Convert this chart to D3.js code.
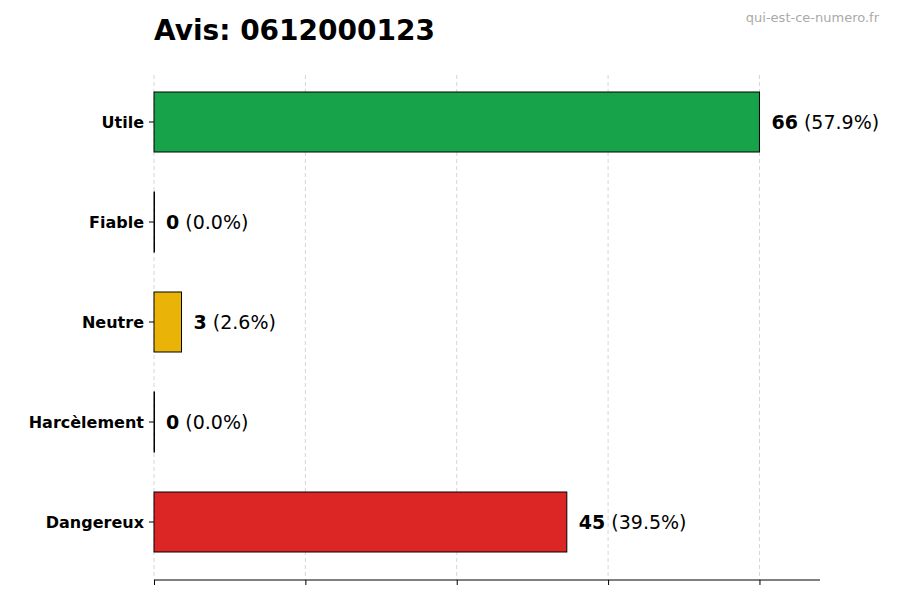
<!DOCTYPE html><html><head><meta charset="utf-8"><script src="https://cdn.jsdelivr.net/npm/d3@7"></script>
<style>body{margin:0;background:#fff}text{font-family:"DejaVu Sans",sans-serif}</style></head><body><svg id="c" width="900" height="600"></svg>
<script>
const categories=["Utile","Fiable","Neutre","Harcèlement","Dangereux"];
const values=[66,0,3,0,45];
const percents=["57.9%","0.0%","2.6%","0.0%","39.5%"];
const colors=["#16a34a","#9ca3af","#eab308","#6b7280","#dc2626"];
const xTicks=[0,16.5,33,49.5,66];
const svg=d3.select("#c");
const x=d3.scaleLinear().domain([0,72.6]).range([154,820]);
const y=d3.scaleLinear().domain([-0.47,4.58]).range([75,580]);
const bh=60;
svg.append("g").selectAll("line").data(xTicks).join("line")
 .attr("x1",d=>x(d)).attr("x2",d=>x(d)).attr("y1",75).attr("y2",580)
 .attr("stroke","#ccc").attr("stroke-dasharray","4,3").attr("stroke-width",0.8);
svg.append("g").attr("transform","translate(0,580)")
 .call(d3.axisBottom(x).tickValues(xTicks).tickFormat("").tickSize(5).tickSizeOuter(0))
 .call(g=>g.select(".domain").attr("d","M154,0H820").attr("stroke","#000"));
svg.append("g").selectAll("rect").data(values).join("rect")
 .attr("x",x(0)).attr("y",(d,i)=>y(i)-bh/2).attr("width",d=>Math.max(x(d)-x(0),0.5)).attr("height",bh)
 .attr("fill",(d,i)=>colors[i]).attr("stroke","#000").attr("stroke-width",1);
const yl=svg.append("g");
categories.forEach((c,i)=>{
 yl.append("line").attr("x1",149).attr("x2",154).attr("y1",y(i)).attr("y2",y(i)).attr("stroke","#000");
 yl.append("text").attr("x",144).attr("y",y(i)).attr("dy","0.35em").attr("text-anchor","end")
  .attr("font-size",16).attr("font-weight","bold").text(c);
 const t=svg.append("text").attr("x",x(values[i])+12).attr("y",y(i)).attr("dy","0.35em").attr("font-size",19);
 t.append("tspan").attr("font-weight","bold").text(values[i]);
 t.append("tspan").text(" ("+percents[i]+")");
});
svg.append("text").attr("x",154).attr("y",40).attr("font-size",28).attr("font-weight","bold").text("Avis: 0612000123");
svg.append("text").attr("x",879).attr("y",22).attr("text-anchor","end").attr("font-size",13).attr("fill","#aaa").text("qui-est-ce-numero.fr");
</script></body></html>
